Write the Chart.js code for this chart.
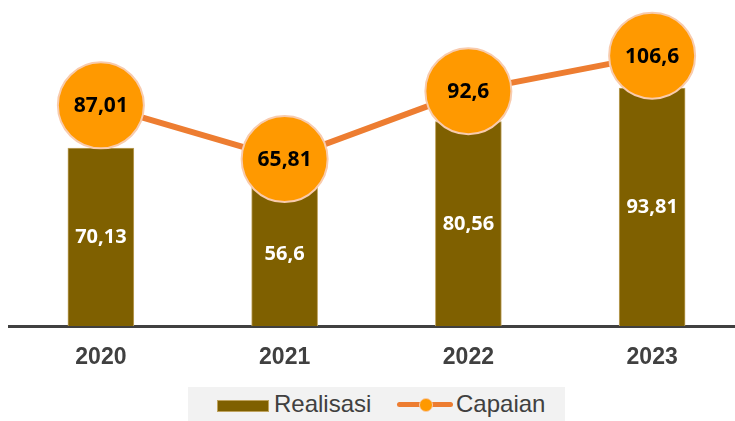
<!DOCTYPE html>
<html>
<head>
<meta charset="utf-8">
<script src="https://cdn.jsdelivr.net/npm/chart.js@4"></script>
<style>
   body { margin: 0; background: #fff; }
   #wrap { position: relative; width: 735px; height: 421px; overflow: hidden; }
   #legend {
      position: absolute; left: 188px; top: 387px; width: 377px; height: 34px;
      background: #f2f2f2; font-family: 'Liberation Sans', Arial, sans-serif;
      font-size: 24px; color: #404040;
   }
   .item { position: absolute; top: 3px; line-height: 28px; }
   .box { position: absolute; top: 13px; left: 29px; width: 50px; height: 10px;
      background: #7f6000; border: 1px solid #bfa35f; }
   .ln { position: absolute; top: 15px; left: 209px; width: 56px; height: 5px;
      background: #ed7d31; border-radius: 3px; }
   .dot { position: absolute; top: 11px; left: 231px; width: 12px; height: 12px;
      border-radius: 50%; background: #ff9900; border: 1px solid #f8cbad; }
</style>
</head>
<body>
<div id="wrap">
   <canvas id="chart" width="744" height="421"></canvas>
   <div id="legend">
      <span class="box"></span><span class="item" style="left:86px">Realisasi</span>
      <span class="ln"></span><span class="dot"></span><span class="item" style="left:268px">Capaian</span>
   </div>
</div>
<script>
// data
var years = ['2020', '2021', '2022', '2023'];
var realisasi = [70.13, 56.6, 80.56, 93.81];
var capaian = [87.01, 65.81, 92.6, 106.6];

function fmt(v) {
   return String(v).replace('.', ',');
}

// value labels inside bars and on the circles
var valueLabels = {
   id: 'valueLabels',
   afterDatasetsDraw: function (chart) {
      var ctx = chart.ctx;
      ctx.save();
      ctx.textAlign = 'center';
      ctx.textBaseline = 'middle';
      chart.getDatasetMeta(1).data.forEach(function (bar, i) {
         ctx.fillStyle = '#ffffff';
         ctx.font = 'bold 20px "Noto Sans"';
         ctx.fillText(fmt(realisasi[i]), bar.x, (bar.y + bar.base) / 2);
      });
      chart.getDatasetMeta(0).data.forEach(function (pt, i) {
         ctx.fillStyle = '#000000';
         ctx.font = 'bold 21px "Noto Sans"';
         ctx.fillText(fmt(capaian[i]), pt.x, pt.y + 1);
      });
      ctx.restore();
   },
};

new Chart('chart', {
   type: 'bar',
   data: {
      labels: years,
      datasets: [
         {
            type: 'line',
            label: 'Capaian',
            data: capaian,
            borderColor: '#ed7d31',
            borderWidth: 6,
            pointRadius: 43,
            pointHoverRadius: 43,
            pointBackgroundColor: '#ff9900',
            pointBorderColor: '#f8cbad',
            pointBorderWidth: 2,
            clip: false,
            order: 0,
         },
         {
            label: 'Realisasi',
            data: realisasi,
            backgroundColor: '#7f6000',
            borderColor: '#bfa35f',
            borderWidth: 1,
            barThickness: 66,
            order: 1,
         },
      ],
   },
   options: {
      responsive: false,
      animation: false,
      events: [],
      layout: { autoPadding: false, padding: { top: 9, left: 9, right: 0, bottom: 45 } },
      plugins: {
         legend: { display: false },
         tooltip: { enabled: false },
      },
      scales: {
         x: {
            grid: { display: true, drawOnChartArea: false, drawTicks: false },
            border: { display: true, color: '#404040', width: 3 },
            ticks: {
               color: '#404040',
               padding: 18,
               font: { family: '"Liberation Sans", Arial', size: 23, weight: 'bold' },
            },
            afterFit: function (s) { s.height = 50; },
         },
         y: {
            display: false,
            min: 0,
            max: 125,
         },
      },
   },
   plugins: [valueLabels],
});
</script>
</body>
</html>
